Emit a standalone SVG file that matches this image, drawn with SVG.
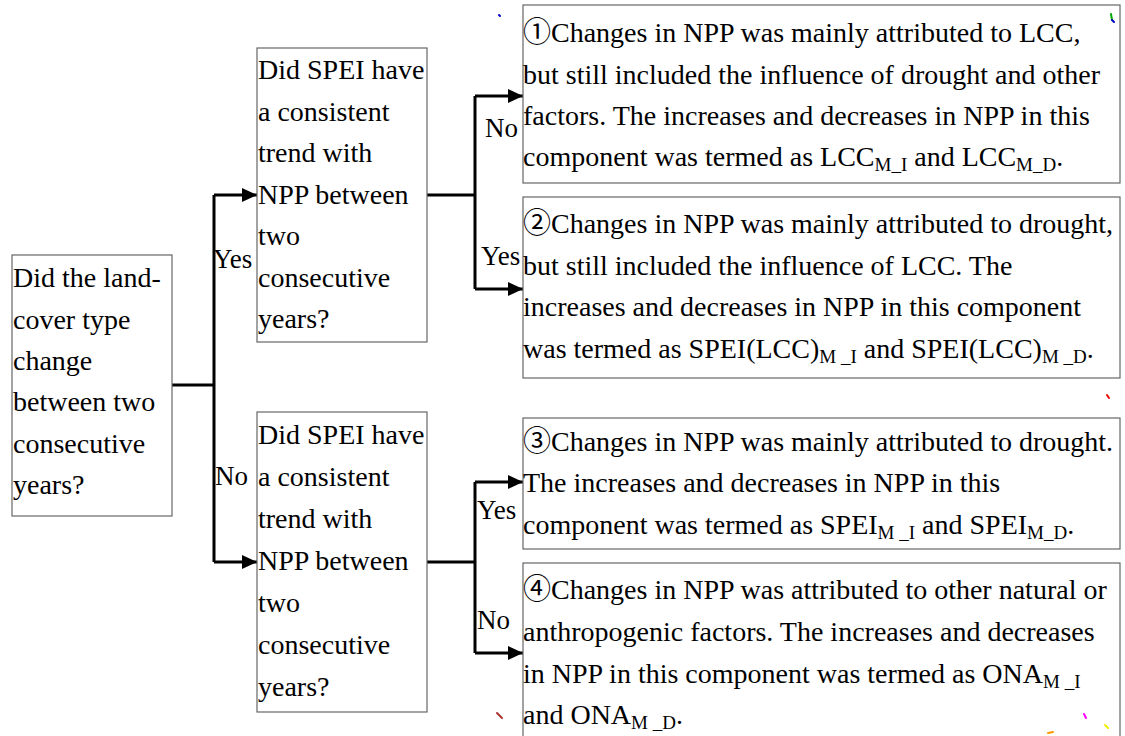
<svg xmlns="http://www.w3.org/2000/svg" width="1125" height="736" viewBox="0 0 1125 736">
<style>
.box{fill:#fff;stroke:#666;stroke-width:1.2}
.t{font-family:"Liberation Serif","Noto Sans CJK SC",serif;font-size:28px;fill:#000}
.lbl{font-family:"Liberation Serif",serif;font-size:27px;fill:#000}
.sub{font-size:19px}
.c{fill:none;stroke:#000;stroke-width:3}
</style>
<defs>
<marker id="ah" markerUnits="userSpaceOnUse" markerWidth="16" markerHeight="14" refX="15" refY="7" orient="auto">
<path d="M0,0 L15,7 L0,14 z" fill="#000"/>
</marker>
</defs>
<rect width="1125" height="736" fill="#fff"/>

<g id="connectors">
<path class="c" d="M172,385 H214 M214,195 V562 M427,195 H475 M475,96 V289 M427,562 H475 M475,482 V653"/>
<path class="c" d="M214,195 H257" marker-end="url(#ah)"/>
<path class="c" d="M214,562 H257" marker-end="url(#ah)"/>
<path class="c" d="M475,96 H523" marker-end="url(#ah)"/>
<path class="c" d="M475,289 H523" marker-end="url(#ah)"/>
<path class="c" d="M475,482 H523" marker-end="url(#ah)"/>
<path class="c" d="M475,653 H523" marker-end="url(#ah)"/>
<text class="lbl" x="213" y="268">Yes</text>
<text class="lbl" x="215" y="485">No</text>
<text class="lbl" x="485" y="137">No</text>
<text class="lbl" x="481" y="265">Yes</text>
<text class="lbl" x="477" y="519">Yes</text>
<text class="lbl" x="477" y="629">No</text>
</g>

<g id="q1">
<rect class="box" x="12" y="255" width="160" height="261"/>
<text class="t" x="13" y="287">Did the land-</text>
<text class="t" x="13" y="328.5">cover type</text>
<text class="t" x="13" y="370">change</text>
<text class="t" x="13" y="411">between two</text>
<text class="t" x="13" y="452.5">consecutive</text>
<text class="t" x="13" y="494">years?</text>
</g>

<g id="q2">
<rect class="box" x="257" y="48" width="170" height="294"/>
<text class="t" x="258" y="79">Did SPEI have</text>
<text class="t" x="258" y="120.5">a consistent</text>
<text class="t" x="258" y="162">trend with</text>
<text class="t" x="258" y="203.5">NPP between</text>
<text class="t" x="258" y="245">two</text>
<text class="t" x="258" y="286.5">consecutive</text>
<text class="t" x="258" y="328">years?</text>
</g>

<g id="q3">
<rect class="box" x="257" y="412" width="170" height="300"/>
<text class="t" x="258" y="444">Did SPEI have</text>
<text class="t" x="258" y="486">a consistent</text>
<text class="t" x="258" y="528">trend with</text>
<text class="t" x="258" y="570">NPP between</text>
<text class="t" x="258" y="612">two</text>
<text class="t" x="258" y="654">consecutive</text>
<text class="t" x="258" y="696">years?</text>
</g>

<g id="r1">
<rect class="box" x="523" y="5" width="597" height="178"/>
<text class="t" x="523" y="42">①Changes in NPP was mainly attributed to LCC,</text>
<text class="t" x="523" y="84">but still included the influence of drought and other</text>
<text class="t" x="523" y="125">factors. The increases and decreases in NPP in this</text>
<text class="t" x="523" y="166">component was termed as LCC<tspan class="sub" dy="5">M_I</tspan><tspan dy="-5"> and LCC</tspan><tspan class="sub" dy="5">M_D</tspan><tspan dy="-5">.</tspan></text>
</g>

<g id="r2">
<rect class="box" x="523" y="197" width="597" height="181"/>
<text class="t" x="523" y="233">②Changes in NPP was mainly attributed to drought,</text>
<text class="t" x="523" y="275">but still included the influence of LCC. The</text>
<text class="t" x="523" y="316">increases and decreases in NPP in this component</text>
<text class="t" x="523" y="358">was termed as SPEI(LCC)<tspan class="sub" dy="5">M _I</tspan><tspan dy="-5"> and SPEI(LCC)</tspan><tspan class="sub" dy="5">M _D</tspan><tspan dy="-5">.</tspan></text>
</g>

<g id="r3">
<rect class="box" x="523" y="418" width="597" height="131"/>
<text class="t" x="523" y="451">③Changes in NPP was mainly attributed to drought.</text>
<text class="t" x="523" y="492">The increases and decreases in NPP in this</text>
<text class="t" x="523" y="534">component was termed as SPEI<tspan class="sub" dy="5">M _I</tspan><tspan dy="-5"> and SPEI</tspan><tspan class="sub" dy="5">M_D</tspan><tspan dy="-5">.</tspan></text>
</g>

<g id="r4">
<rect class="box" x="523" y="563" width="597" height="190"/>
<text class="t" x="523" y="599">④Changes in NPP was attributed to other natural or</text>
<text class="t" x="523" y="641">anthropogenic factors. The increases and decreases</text>
<text class="t" x="523" y="683">in NPP in this component was termed as ONA<tspan class="sub" dy="5">M _I</tspan></text>
<text class="t" x="523" y="724">and ONA<tspan class="sub" dy="5">M _D</tspan><tspan dy="-5">.</tspan></text>
</g>

<g id="specks" stroke-width="2" stroke-linecap="round">
<line x1="499" y1="15" x2="500" y2="16" stroke="#00c"/>
<line x1="1111" y1="14" x2="1112" y2="20" stroke="#0a0"/>
<line x1="1112" y1="20" x2="1114" y2="22" stroke="#00c"/>
<line x1="1107" y1="395" x2="1109" y2="398" stroke="#e00"/>
<line x1="497" y1="713" x2="502" y2="718" stroke="#a33"/>
<line x1="1084" y1="714" x2="1086" y2="718" stroke="#f0f"/>
<line x1="1048" y1="733" x2="1053" y2="732" stroke="#f90"/>
<line x1="1105" y1="725" x2="1108" y2="728" stroke="#ee0"/>
</g>
</svg>
